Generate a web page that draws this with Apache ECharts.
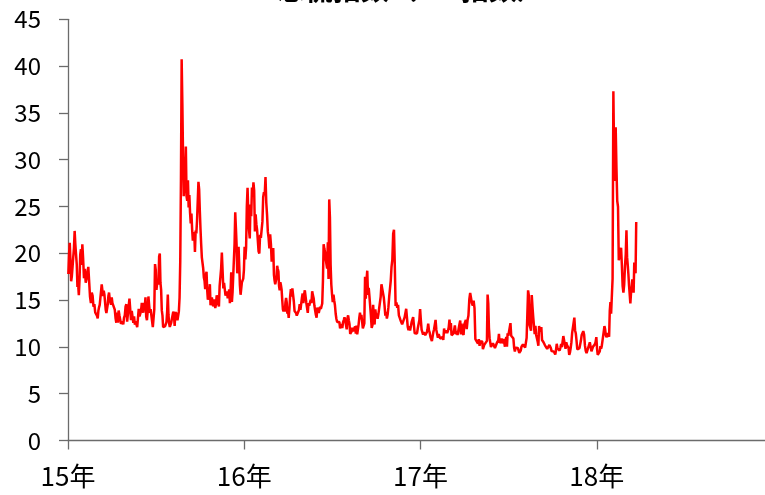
<!DOCTYPE html>
<html>
<head>
<meta charset="utf-8">
<script src="https://cdn.jsdelivr.net/npm/echarts@6/dist/echarts.min.js"></script>
<style>
html,body{margin:0;padding:0;background:#fff;}
#chart{width:765px;height:495px;}
</style>
</head>
<body>
<div id="chart"></div>
<script>
// Daily VIX closes, grouped by month (Jan..Dec) per year
const vix2015 = [
  [17.79,19.92,21.12,19.31,17.01,17.55,18.55,19.60,20.56,22.39,20.95,19.89,18.85,16.40,16.66,15.52,17.22,19.89,20.44,18.76,20.97],
  [19.43,17.33,18.33,16.85,17.29,17.98,18.55,16.94,15.34,14.69,15.80,15.45,14.29,14.56,13.69,13.84,13.34],
  [13.04,13.86,14.23,14.49,15.20,15.06,16.69,16.87,15.42,16.00,15.61,15.44,13.97,13.62,13.41,14.52,15.44,15.80,15.07,15.11,14.51,15.29],
  [14.67,14.74,14.78,13.98,13.09,12.58,13.67,12.60,13.89,13.38,13.25,12.48,12.29,12.71,12.41,13.12,13.38,14.33,14.55],
  [12.70,13.49,14.39,15.15,15.13,12.86,13.85,13.21,12.56,13.25,12.38,12.73,12.85,12.11,12.13,14.06,13.27,13.31,13.84],
  [14.70,13.97,13.66,14.71,14.21,15.29,13.22,12.85,13.78,15.39,14.44,13.65,14.02,13.96,12.74,12.11,12.16,14.01,18.85,18.23],
  [16.09,16.79,17.01,16.67,19.66,19.97,16.83,16.09,13.90,13.37,12.11,12.12,11.95,12.22,12.12,12.64,13.74,15.60,13.44,12.50,12.13,12.12],
  [12.56,12.98,13.00,13.77,13.39,12.23,13.71,13.61,13.49,12.83,13.02,13.79,15.25,19.14,28.03,40.74,36.02,30.32,26.10,26.05,28.43],
  [31.40,26.09,25.61,27.80,24.90,26.23,24.37,23.20,24.25,22.54,21.35,21.14,22.28,20.14,22.44,22.13,23.47,23.62,27.63,26.83,24.50],
  [22.55,20.94,19.54,19.40,18.40,17.42,17.08,16.17,17.67,18.03,16.05,15.05,14.98,15.75,16.70,14.45,14.46,15.29,15.43,14.33,14.61,15.07],
  [14.15,14.54,15.51,15.05,14.99,14.33,16.52,16.60,18.37,20.08,18.16,16.25,16.84,16.85,15.47,15.62,15.93,15.19,15.12,16.13],
  [14.67,15.91,17.98,14.81,15.84,17.60,19.34,21.02,24.39,22.73,20.95,17.86,18.94,20.70,18.70,16.60,15.57,15.74,16.91,16.91,17.29,18.21]
];
const vix2016 = [
  [20.70,19.34,20.59,24.99,27.01,24.30,22.47,21.59,25.22,23.95,27.02,26.05,27.59,26.69,22.34,24.15,23.11,22.50,22.42,20.20],
  [19.98,21.98,21.65,21.84,23.38,25.99,26.54,26.29,28.14,25.40,24.11,22.31,21.64,20.53,22.02,20.98,19.11,19.81,20.55],
  [17.70,17.09,16.70,16.86,17.35,18.67,18.34,18.05,16.50,16.05,16.92,16.58,16.12,14.99,14.02,13.79,14.17,13.79,14.74,15.24,14.77,13.56,13.95],
  [13.10,14.09,15.42,16.16,15.36,16.26,16.26,14.85,13.84,13.72,13.62,13.35,13.24,13.22,13.95,14.58,13.96,13.77,15.22,15.70],
  [14.68,15.60,16.05,15.91,14.72,14.57,13.63,14.69,14.41,14.41,15.04,14.68,15.95,15.53,15.20,14.42,13.90,13.43,13.12,14.19],
  [14.20,13.63,13.47,14.30,14.05,14.08,14.64,17.03,20.97,20.50,20.14,19.37,19.41,18.37,21.17,17.25,25.76,23.85,18.75,16.64,15.63],
  [14.77,15.58,14.96,14.45,13.54,12.98,12.67,12.51,12.82,12.67,11.97,11.77,12.44,12.02,12.61,12.87,13.15,12.83,12.72,11.87],
  [13.02,13.37,12.86,12.42,11.39,11.50,11.66,12.05,11.68,11.55,11.81,12.19,11.43,12.27,11.34,11.34,12.38,13.12,13.65,12.94,13.42],
  [13.48,11.98,12.02,12.51,17.50,15.16,17.13,18.14,15.55,16.30,15.37,15.53,13.30,12.02,12.29,14.50,13.10,12.39,14.02,13.29],
  [13.57,12.99,13.48,13.28,13.38,15.36,16.69,16.21,16.12,15.28,14.41,13.34,13.75,13.02,13.46,14.24,15.36,16.19,17.06],
  [18.56,19.32,22.08,22.51,18.71,14.38,14.74,14.17,14.48,13.37,13.35,12.85,12.85,12.41,12.30,12.43,13.15,13.33],
  [14.07,14.12,12.14,11.79,12.22,11.75,11.75,12.64,12.72,13.19,12.29,11.45,11.27,11.43,11.44,11.99,12.20,12.85,14.04]
];
const vix2017 = [
  [12.85,11.85,11.67,11.32,11.56,11.49,11.26,11.23,11.54,11.87,12.48,11.76,11.54,11.07,10.91,10.63,10.75,11.58,11.88,11.99],
  [12.88,11.81,11.90,10.97,11.37,11.45,10.88,10.85,10.72,11.07,10.74,11.97,11.49,11.57,11.76,11.47,11.71,12.09,12.92],
  [11.81,12.54,11.24,11.24,11.33,11.45,11.86,12.30,11.66,11.35,11.63,11.28,11.34,11.28,12.47,12.81,11.34,12.50,11.53,11.38,11.29,12.37],
  [12.38,12.89,11.89,12.87,13.35,15.07,15.77,15.96,14.66,14.42,14.93,14.15,10.84,10.76,10.85,10.36,10.82],
  [10.11,10.59,10.68,10.46,10.57,9.77,9.96,10.21,10.11,10.40,10.42,10.65,15.59,14.66,12.04,10.93,10.72,9.99,10.02,9.81,10.38,10.41],
  [10.40,9.89,9.75,10.07,10.45,10.39,10.70,11.40,10.42,10.50,10.64,10.90,10.37,10.38,10.86,10.75,10.02,10.67,11.06,10.03,11.44,11.18],
  [11.22,11.07,12.54,11.19,11.11,11.11,10.89,9.90,9.51,9.91,9.82,9.79,9.89,9.97,9.36,9.43,9.60,10.02,10.11,10.26],
  [10.09,10.28,9.93,10.03,10.96,11.11,16.04,15.51,12.33,12.04,11.74,15.55,14.26,13.19,12.25,11.35,12.25,11.28,11.32,10.59],
  [10.13,12.23,11.63,11.55,12.12,10.73,10.58,10.50,10.44,10.17,10.15,10.18,9.78,9.67,9.59,10.21,10.17,9.87,9.55,9.51],
  [9.45,9.51,9.63,9.19,9.65,10.33,9.85,9.90,9.91,9.61,9.91,10.31,9.97,10.07,11.16,11.23,11.30,9.80,10.50,10.18],
  [10.20,9.93,9.14,9.40,9.89,10.50,11.50,11.29,11.50,13.13,11.76,11.43,10.65,9.73,9.67,9.88,9.87,10.03,10.70,11.28],
  [11.43,11.68,11.33,10.16,9.58,9.34,9.35,9.42,10.18,10.49,10.53,9.53,9.72,10.03,9.90,10.25,10.47,11.04]
];
const vix2018 = [
  [9.77,9.15,9.22,9.22,9.52,10.08,9.82,10.08,9.88,10.16,11.66,12.22,11.91,11.27,11.03,11.10,11.47,11.58,11.08,13.84,14.79,13.54],
  [13.47,17.31,37.32,29.98,27.73,33.46,29.06,25.61,24.97,19.26,19.13,19.46,20.60,18.72,16.49,15.80,16.64,18.59,19.85],
  [22.47,19.59,18.73,17.76,16.54,16.46,14.64,15.78,16.35,17.23,16.59,15.80,19.02,18.20,17.86,23.34]
];
const years = [2015, 2016, 2017, 2018];
const lastMonthShare = 22 / 31; // data ends on 22 March 2018
const yearLabels = ['15年', '16年', '17年', '18年'];

// build [fractional-year, value] pairs
const seriesData = [];
[vix2015, vix2016, vix2017, vix2018].forEach((yr, yi) => {
  yr.forEach((month, mi) => {
    const isLast = (yi === 3 && mi === yr.length - 1);
    const span = isLast ? lastMonthShare : 1;
    month.forEach((v, i) => {
      const t = years[yi] + (mi + span * (i + 0.5) / month.length) / 12;
      seriesData.push([t, v]);
    });
  });
});

const chart = echarts.init(document.getElementById('chart'));
const FONT = 'Noto Sans CJK SC';
chart.setOption({
  animation: false,
  backgroundColor: '#ffffff',
  title: {
    text: '恐慌指数（VIX指数）',
    left: 411,
    textAlign: 'center',
    top: -25,
    padding: 0,
    textStyle: { fontFamily: FONT, fontSize: 28, fontWeight: 'bold', color: '#000' }
  },
  grid: { left: 68, top: 19.3, width: 705, height: 421.2, containLabel: false, outerBoundsMode: 'none' },
  xAxis: {
    type: 'value',
    min: 2015, max: 2019, interval: 1,
    splitLine: { show: false },
    axisLine: { lineStyle: { color: '#6b6b6b', width: 1.3 } },
    axisTick: { show: true, length: 9, lineStyle: { color: '#6b6b6b', width: 1.3 } },
    axisLabel: {
      margin: 23, fontFamily: FONT, fontSize: 26, color: '#000',
      showMaxLabel: false,
      formatter: v => { const k = years.indexOf(Math.round(v)); return k >= 0 ? yearLabels[k] : ''; }
    }
  },
  yAxis: {
    type: 'value',
    min: 0, max: 45, interval: 5,
    splitLine: { show: false },
    axisLine: { show: true, lineStyle: { color: '#6b6b6b', width: 1.3 } },
    axisTick: { show: true, length: 9, lineStyle: { color: '#6b6b6b', width: 1.3 } },
    axisLabel: { margin: 27, fontFamily: FONT, fontSize: 24, color: '#000' }
  },
  series: [{
    type: 'line',
    data: seriesData,
    showSymbol: false,
    lineStyle: { color: '#ff0000', width: 2.5 },
    itemStyle: { color: '#ff0000' }
  }]
});
</script>
</body>
</html>
